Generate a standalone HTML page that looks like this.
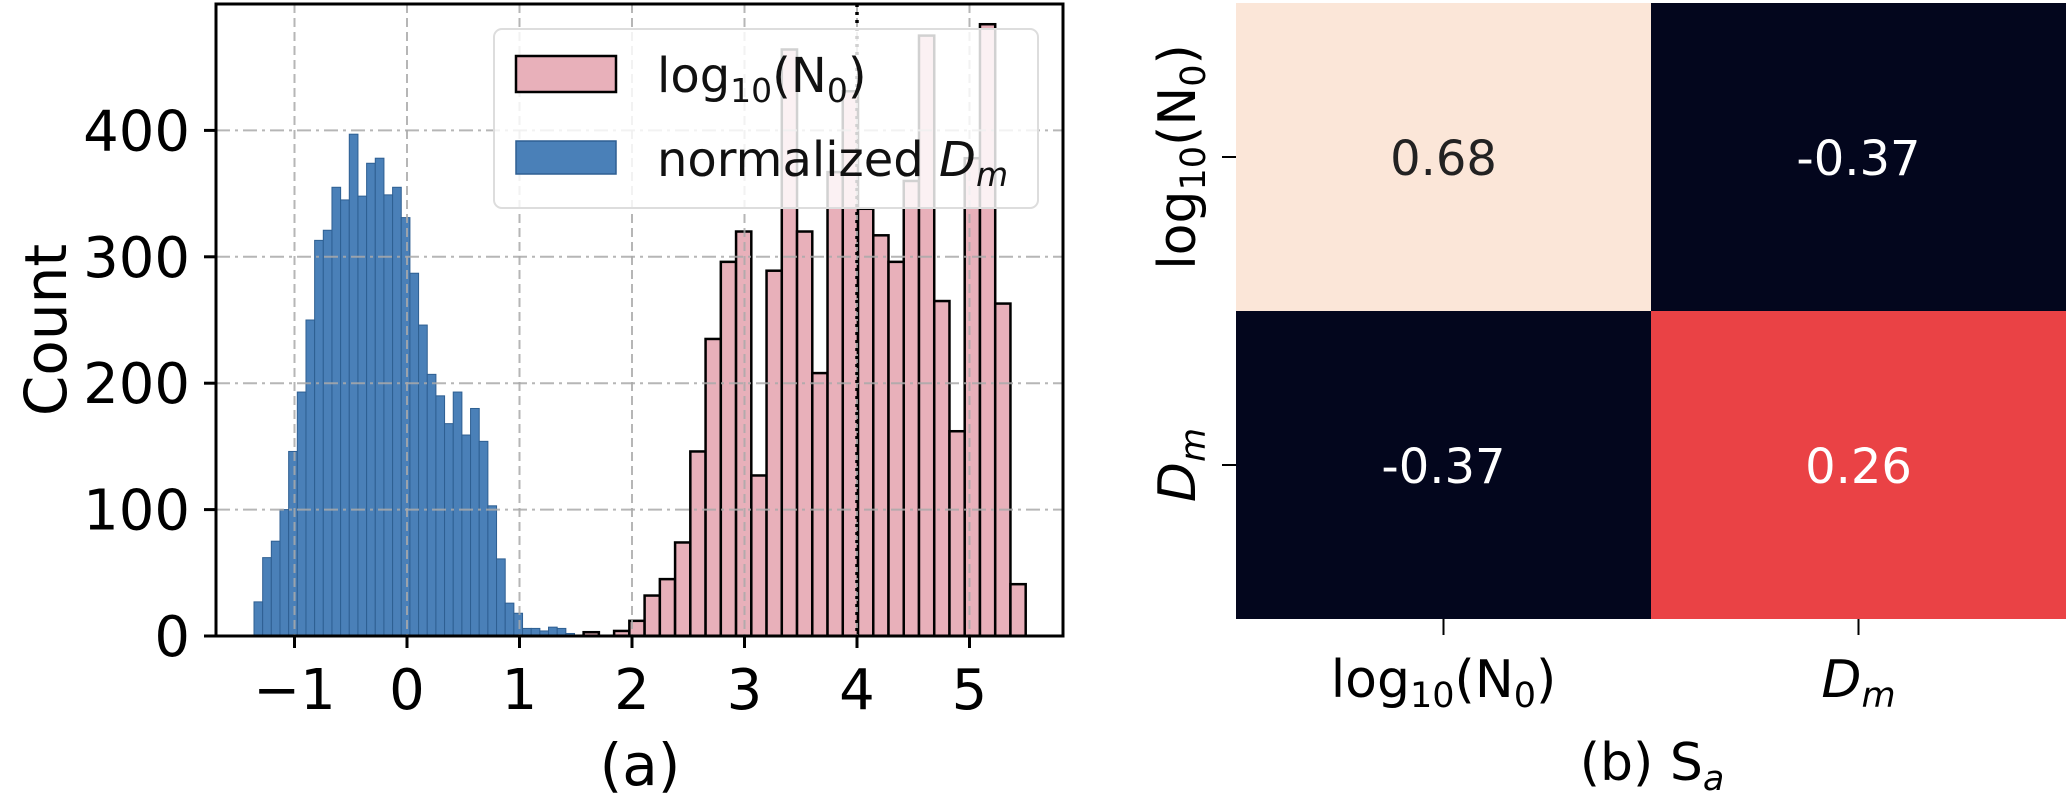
<!DOCTYPE html>
<html><head><meta charset="utf-8">
<style>
html,body{margin:0;padding:0;background:#fff;}
svg{display:block;font-family:"DejaVu Sans","Liberation Sans",sans-serif;}
</style></head>
<body>
<svg id="fig" width="2066" height="793" viewBox="0 0 2066 793" xmlns="http://www.w3.org/2000/svg">
  <g id="histo"></g>
  <g id="heat"></g>
</svg>
<script>
// ---- Histogram data ----
const blueStart = -1.36;
const blueWidth = 0.077;
const blueCounts = [27,62,75,100,146,193,250,313,321,355,345,397,348,374,378,349,355,331,287,246,207,190,168,193,159,180,154,103,61,26,18,6,6,4,7,6,2];
const pinkStart = 1.57;
const pinkWidth = 0.1355;
const pinkCounts = [3,0,4,12,32,45,74,146,235,296,320,127,289,464,320,208,367,431,338,317,296,360,475,265,162,378,484,263,41];
const xTicks = [-1,0,1,2,3,4,5];
const xTickLabels = ["\u22121","0","1","2","3","4","5"];
const yTicks = [0,100,200,300,400];
const markerX = [4];
// ---- Heatmap data ----
const hmRows = ["log10(N0)","Dm"];
const hmCols = ["log10(N0)","Dm"];
const hmValues = [[0.68,-0.37],[-0.37,0.26]];
const hmLabels = [["0.68","-0.37"],["-0.37","0.26"]];

const NS="http://www.w3.org/2000/svg";
function mk(tag, attrs, parent){const e=document.createElementNS(NS,tag);for(const k in attrs)e.setAttribute(k,attrs[k]);parent.appendChild(e);return e;}

const L=216,R=1063,T=4,B=636;
const xs=v=>407+v*112.5;
const ys=c=>B-c*1.264;
const H=document.getElementById('histo');

blueCounts.forEach((c,i)=>{
  const x0=xs(blueStart+i*blueWidth), x1=xs(blueStart+(i+1)*blueWidth);
  const r=mk('rect',{x:x0,y:ys(c),width:x1-x0,height:B-ys(c),fill:'#4a80b8',stroke:'#2e5f92','stroke-width':1},H);
  
  
});
pinkCounts.forEach((c,i)=>{
  if(c<=0) return;
  const x0=xs(pinkStart+i*pinkWidth), x1=xs(pinkStart+(i+1)*pinkWidth);
  const r=mk('rect',{x:x0,y:ys(c),width:x1-x0,height:B-ys(c),fill:'#e8b0ba',stroke:'#000','stroke-width':2.5},H);
  
  
});
xTicks.forEach(v=>{
  const g=mk('line',{x1:xs(v),x2:xs(v),y1:T,y2:B,stroke:'#aaa','stroke-width':2,'stroke-dasharray':'9,5','opacity':0.85},H);
  
  
});
yTicks.forEach(v=>{
  const g=mk('line',{x1:L,x2:R,y1:ys(v),y2:ys(v),stroke:'#aaa','stroke-width':2,'stroke-dasharray':'14,5,3,5','opacity':0.85},H);
  
  
});
markerX.forEach(v=>{
  const d=mk('line',{x1:xs(v),x2:xs(v),y1:T,y2:B,stroke:'#000','stroke-width':3.5,'stroke-dasharray':'3,5'},H);
  
  
});
const lg=mk('g',{},H);


mk('rect',{x:494,y:29,width:544,height:179,rx:8,fill:'#fff','fill-opacity':0.82,stroke:'#ddd','stroke-width':2},lg);
const lp=mk('rect',{x:516,y:56,width:100,height:36,fill:'#e8b0ba',stroke:'#000','stroke-width':2.5},lg);


const lb=mk('rect',{x:516,y:141,width:100,height:33,fill:'#4a80b8',stroke:'#2e5f92','stroke-width':1.5},lg);


const t1=mk('text',{x:657,y:92,'font-size':48,fill:'#111'},lg);


t1.innerHTML='log<tspan font-size="33" dy="10">10</tspan><tspan dy="-10">(N</tspan><tspan font-size="33" dy="10">0</tspan><tspan dy="-10">)</tspan>';
const t2=mk('text',{x:657,y:176,'font-size':48,fill:'#111'},lg);


t2.innerHTML='normalized <tspan font-style="italic">D</tspan><tspan font-style="italic" font-size="33" dy="10">m</tspan>';
mk('rect',{x:L,y:T,width:R-L,height:B-T,fill:'none',stroke:'#000','stroke-width':3},H);
xTicks.forEach((v,i)=>{
  mk('line',{x1:xs(v),x2:xs(v),y1:B,y2:B+12,stroke:'#000','stroke-width':3},H);
  const t=mk('text',{x:xs(v),y:709,'font-size':56,'text-anchor':'middle',fill:'#000'},H);
  
  
  t.textContent=xTickLabels[i];
});
yTicks.forEach(v=>{
  mk('line',{x1:L-12,x2:L,y1:ys(v),y2:ys(v),stroke:'#000','stroke-width':3},H);
  const t=mk('text',{x:190,y:ys(v)+20,'font-size':56,'text-anchor':'end',fill:'#000'},H);
  
  
  t.textContent=v;
});
const yt=mk('text',{x:0,y:0,'font-size':58,'text-anchor':'middle',transform:'translate(66,330) rotate(-90)',fill:'#000'},H);


yt.textContent='Count';
const xa=mk('text',{x:640,y:785,'font-size':58,'text-anchor':'middle',fill:'#000'},H);


xa.textContent='(a)';

const HM=document.getElementById('heat');
const hL=1236,hT=3,cw=415,ch=308;
const colorFor=v=>v>0.5?'#fbe6d8':(v>0?'#ea4245':'#03061d');
hmValues.forEach((row,r)=>row.forEach((v,c)=>{
  const cell=mk('rect',{x:hL+c*cw,y:hT+r*ch,width:cw,height:ch,fill:colorFor(v)},HM);
  
  
  const t=mk('text',{x:hL+c*cw+cw/2,y:hT+r*ch+ch/2+18,'font-size':48,'text-anchor':'middle',fill:v>0.5?'#222':'#fff'},HM);
  
  
  t.textContent=hmLabels[r][c];
}));
hmCols.forEach((lab,c)=>{
  const cx=hL+c*cw+cw/2;
  mk('line',{x1:cx,x2:cx,y1:hT+2*ch,y2:hT+2*ch+16,stroke:'#000','stroke-width':2},HM);
  const t=mk('text',{x:cx,y:697,'font-size':52,'text-anchor':'middle',fill:'#000'},HM);
  
  
  t.innerHTML= c===0 ? 'log<tspan font-size="35" dy="10">10</tspan><tspan dy="-10">(N</tspan><tspan font-size="35" dy="10">0</tspan><tspan dy="-10">)</tspan>' : '<tspan font-style="italic">D</tspan><tspan font-style="italic" font-size="35" dy="10">m</tspan>';
});
hmRows.forEach((lab,r)=>{
  const cy=hT+r*ch+ch/2;
  mk('line',{x1:hL-14,x2:hL,y1:cy,y2:cy,stroke:'#000','stroke-width':2},HM);
  const t=mk('text',{x:0,y:0,'font-size':52,'text-anchor':'middle',transform:`translate(1195,${cy}) rotate(-90)`,fill:'#000'},HM);
  
  
  t.innerHTML= r===0 ? 'log<tspan font-size="35" dy="10">10</tspan><tspan dy="-10">(N</tspan><tspan font-size="35" dy="10">0</tspan><tspan dy="-10">)</tspan>' : '<tspan font-style="italic">D</tspan><tspan font-style="italic" font-size="35" dy="10">m</tspan>';
});
const cb=mk('text',{x:1652,y:780,'font-size':52,'text-anchor':'middle',fill:'#000'},HM);


cb.innerHTML='(b) S<tspan font-style="italic" font-size="35" dy="10">a</tspan>';
</script>
</body></html>
